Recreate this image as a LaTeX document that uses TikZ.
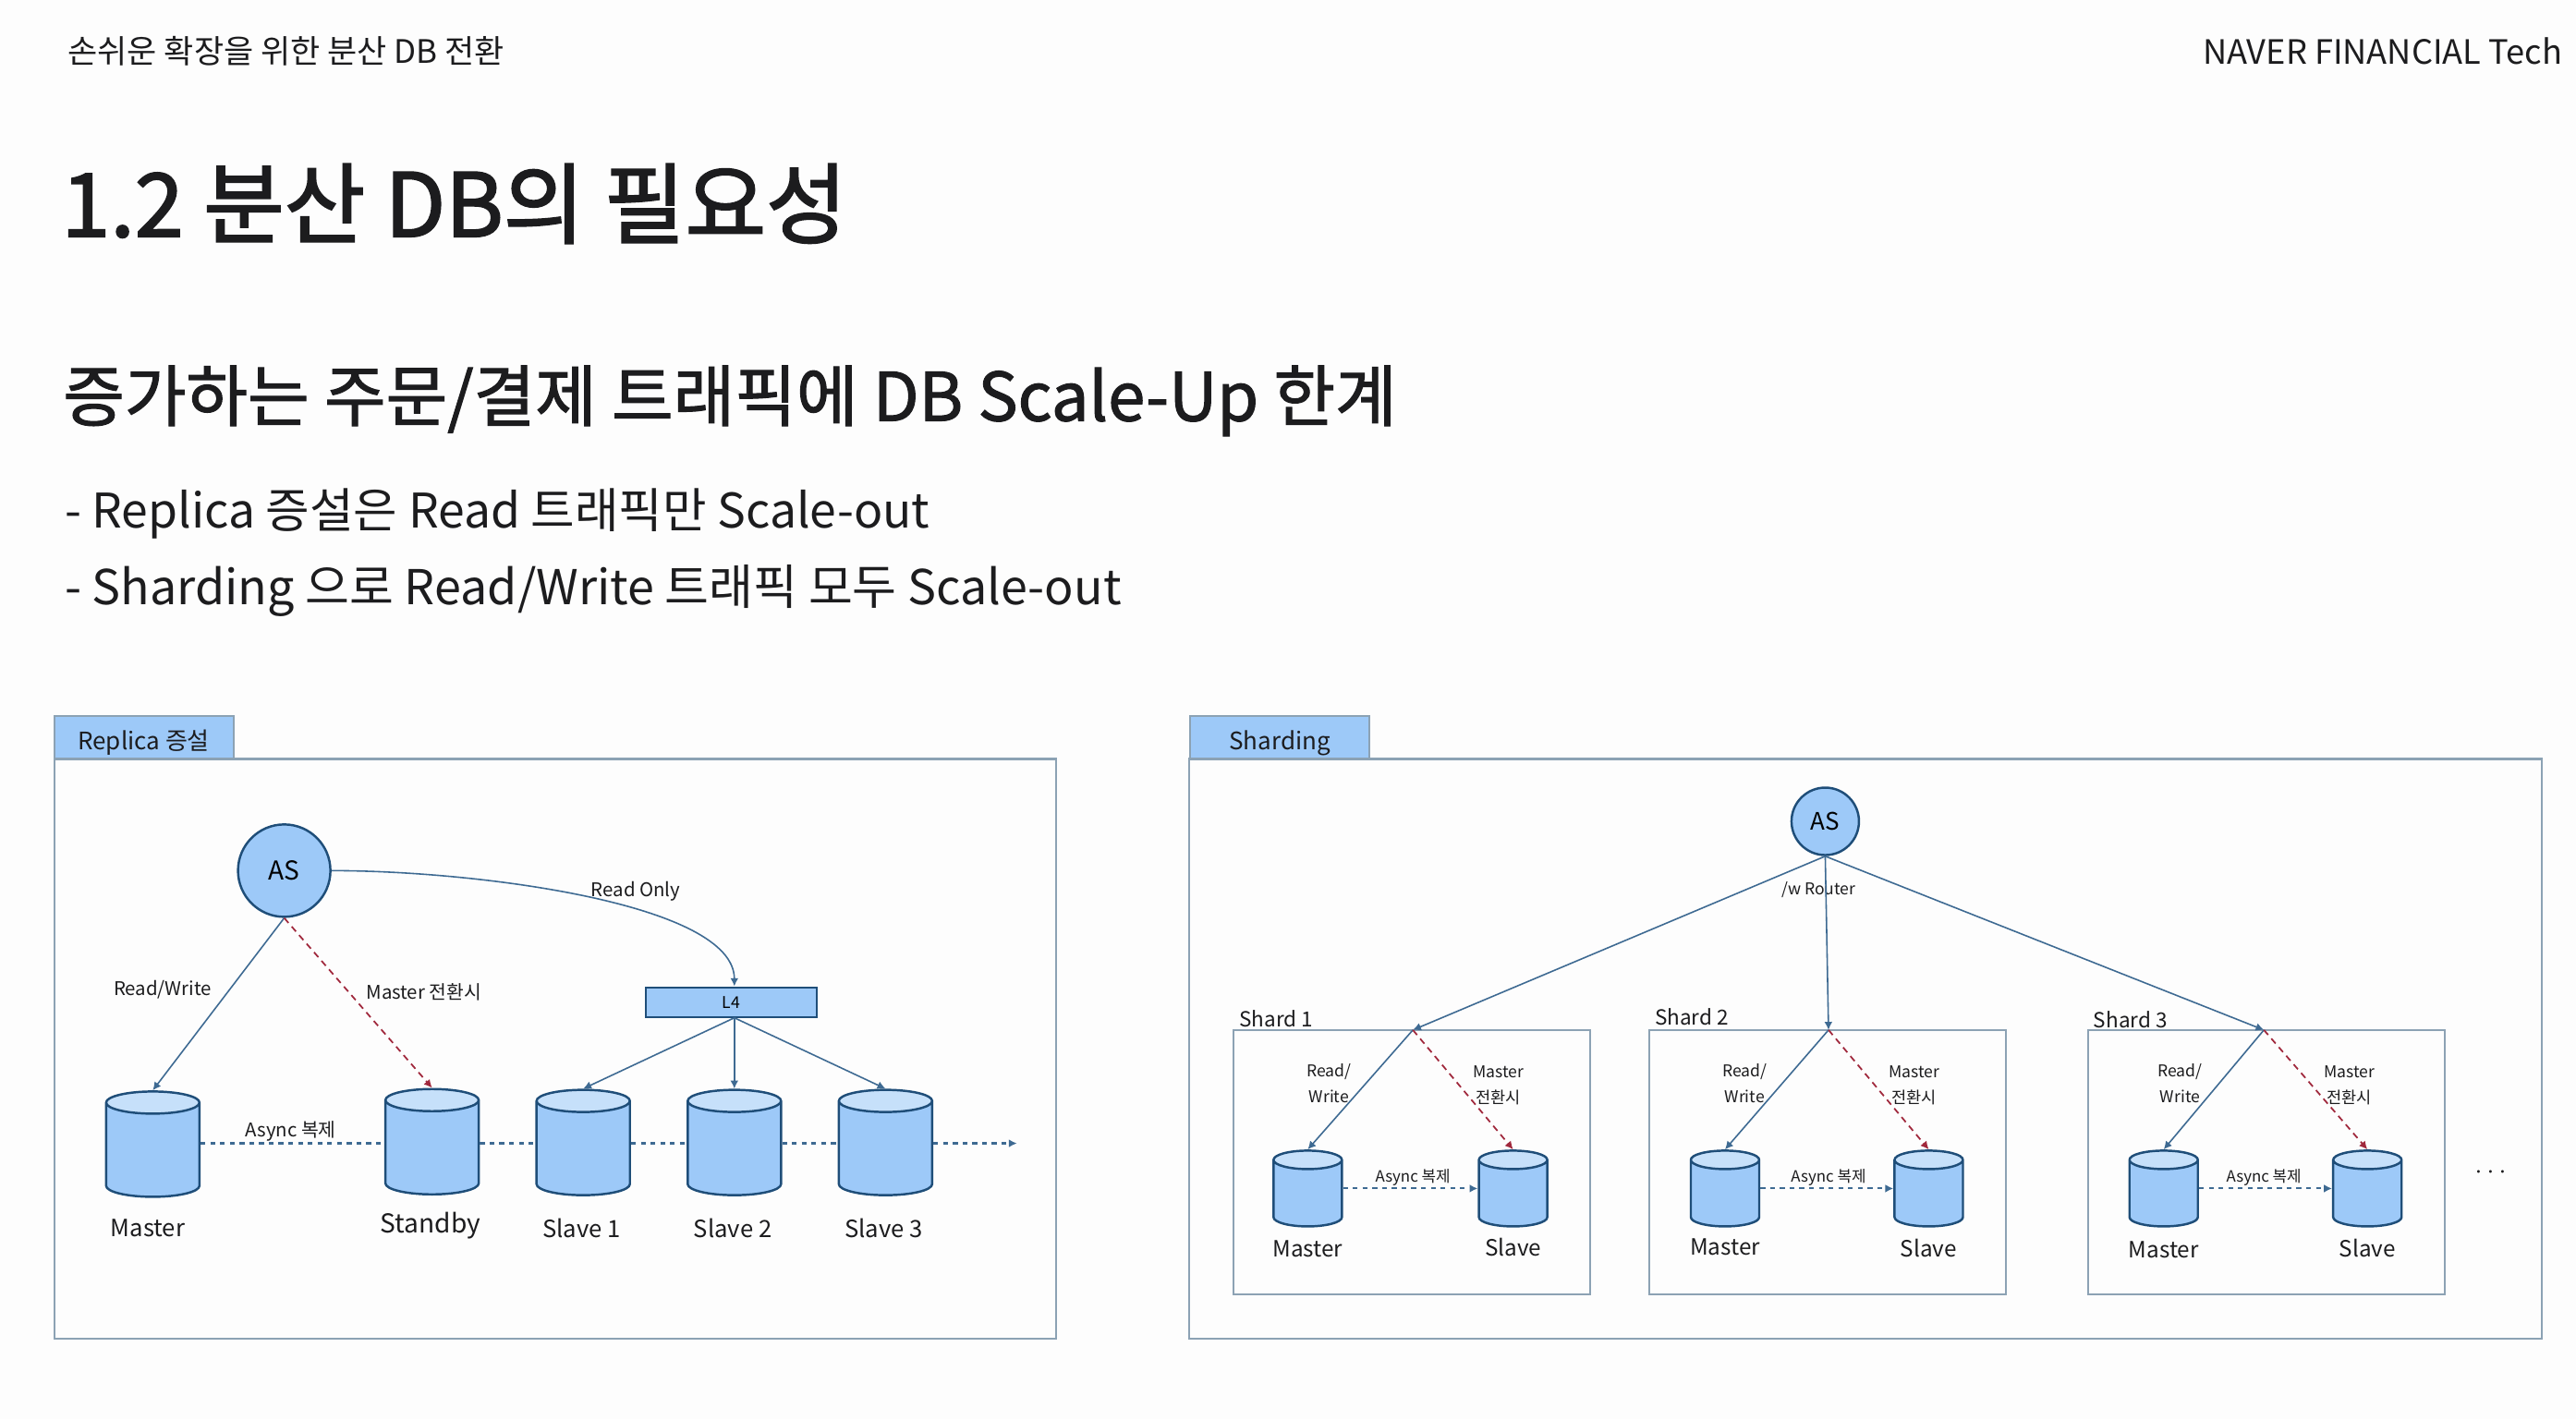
\documentclass[tikz,border=0pt]{standalone}
\usepackage{fontspec}
\setmainfont{Noto Sans CJK KR}
\newfontfamily\titlefont[FakeBold=2]{Noto Sans CJK KR}
\newfontfamily\headfont[FakeBold=1.5]{Noto Sans CJK KR}
\usetikzlibrary{arrows.meta,positioning,shapes.geometric}
\definecolor{PageWhite}{RGB}{253,253,253}
\definecolor{InkBlack}{RGB}{28,28,30}
\definecolor{DbBlue}{RGB}{157,201,248}
\definecolor{DbTop}{RGB}{198,224,250}
\definecolor{DbLine}{RGB}{31,78,121}
\definecolor{BoxGray}{RGB}{140,162,180}
\definecolor{LinkBlue}{RGB}{62,106,146}
\definecolor{SwitchRed}{RGB}{160,40,60}
\newcommand{\tabtext}[1]{\raisebox{-3.7pt}[0pt][0pt]{#1}}
\tikzset{
  db/.style={cylinder,anchor=shape center,shape border rotate=90,draw=DbLine,line width=.7pt,
    cylinder uses custom fill,cylinder body fill=DbBlue,cylinder end fill=DbTop,aspect=1},
  bigdb/.style={db,inner sep=.12cm,minimum width=1.01cm,minimum height=1.14cm},
  smalldb/.style={db,inner sep=.1cm,minimum width=.74cm,minimum height=.82cm},
  server/.style={circle,draw=DbLine,fill=DbBlue,line width=.7pt,inner sep=0pt},
  tabbox/.style={draw=BoxGray,fill=DbBlue,line width=.6pt,minimum width=1.94cm,minimum height=.46cm,inner sep=0pt,text=InkBlack,font=\fontsize{7.4}{10}\selectfont},
  panel/.style={draw=BoxGray,line width=.6pt},
  link/.style={->,LinkBlue,line width=.45pt},
  switchlink/.style={->,SwitchRed,line width=.5pt,dash pattern=on 2pt off 1.5pt},
  synclink/.style={LinkBlue,line width=.6pt,dash pattern=on 1.5pt off 1.5pt},
  smalltext/.style={text=InkBlack,inner sep=0pt,font=\fontsize{5.8}{8.6}\selectfont,align=center},
  dbname/.style={text=InkBlack,inner sep=0pt,font=\fontsize{7.3}{9}\selectfont}
}
\begin{document}
\begin{tikzpicture}[>={Latex[length=2.5pt,width=2.5pt]},x=.01778cm,y=-.01778cm]
\useasboundingbox[fill=PageWhite] (0,0) rectangle (1568,864);
% heading
\node[anchor=west,inner sep=0pt,text=InkBlack,font=\fontsize{9.95}{11}\selectfont] (running) at (41,31){손쉬운 확장을 위한 분산 DB 전환};
\node[anchor=east,inner sep=0pt,text=InkBlack,font=\fontsize{10.3}{11}\selectfont] (company) at (1560,31){NAVER FINANCIAL Tech};
\node[anchor=west,inner sep=0pt,text=InkBlack,font=\fontsize{27.1}{30}\titlefont] (title) at (37,124){1.2 분산 DB의 필요성};
\node[anchor=west,inner sep=0pt,text=InkBlack,font=\fontsize{20.6}{24}\headfont] (subtitle) at (38,244){증가하는 주문/결제 트래픽에 DB Scale-Up 한계};
\node[anchor=west,inner sep=0pt,text=InkBlack,font=\fontsize{14.7}{18}\selectfont] (point1) at (39,313){- Replica 증설은 Read 트래픽만 Scale-out};
\node[anchor=west,inner sep=0pt,text=InkBlack,font=\fontsize{14.8}{18}\selectfont] (point2) at (39,359.5){- Sharding 으로 Read/Write 트래픽 모두 Scale-out};

% replica
\draw[panel] (33,462) rectangle (643,815);
\node[tabbox] (replicatab) at (87.5,449){\tabtext{Replica 증설}};
\node[server,minimum size=1cm] (as) at (173,530){\fontsize{8}{10}\selectfont AS};
\node[draw=DbLine,fill=DbBlue,line width=.6pt,minimum width=1.85cm,minimum height=.32cm,inner sep=0pt,font=\fontsize{5}{6}\selectfont] (lfour) at (445,610){L4};
\node[bigdb] (master) at (93,696.5){};
\node[bigdb] (standby) at (263,695){};
\foreach \n/\x in {1/355,2/447,3/539}{
  \node[bigdb] (slave\n) at (\x,695.5){};
  \node[dbname] (slavename\n) at (\x-1,747.5){Slave \n};
}
\node[dbname] (mastername) at (90,747.5){Master};
\node[dbname,font=\fontsize{8}{10}\selectfont] (standbyname) at (262,746){Standby};
\coordinate (syncend) at (619,696);
\draw[link] (as.south) -- (master.top);
\node[smalltext] (readwrite) at (99,602.5){Read/Write};
\draw[switchlink] (as.south) -- (standby.top);
\node[smalltext] (switchname) at (258,604){Master 전환시};
\draw[link] (as.0) .. controls (290,530) and (447,550) .. (lfour.north -| slave2.top);
\node[smalltext] (readonly) at (387,542.5){Read Only};
\foreach \n in {1,2,3}\draw[link] (lfour.south -| slave2.top) -- (slave\n.top);
\draw[synclink] (master.0 |- syncend) -- (standby.180 |- syncend);
\draw[synclink] (standby.0 |- syncend) -- (slave1.180 |- syncend);
\draw[synclink] (slave1.0 |- syncend) -- (slave2.180 |- syncend);
\draw[synclink] (slave2.0 |- syncend) -- (slave3.180 |- syncend);
\draw[synclink,->] (slave3.0 |- syncend) -- (syncend);
\node[smalltext] (asyncreplica) at (177,688.5){Async 복제};

% sharding
\draw[panel] (724,462) rectangle (1547,815);
\node[tabbox] (shardtab) at (779,449){\tabtext{Sharding}};
\node[server,minimum size=.73cm] (router) at (1111,500){\fontsize{7.4}{9}\selectfont AS};
\node[smalltext,font=\fontsize{5}{8}\selectfont] (routername) at (1107,541.5){/w Router};
\foreach \s/\l/\e/\m/\v/\ly/\my/\vy in {1/751/860/796/921/620/760/759,2/1004/1113/1050/1174/619/759/760,3/1271/1378/1317/1441/621/761/760}{
  \draw[panel] (\l,627) rectangle (\l+217,788);
  \node[smalltext,font=\fontsize{6.4}{8}\selectfont,anchor=west] (shardname\s) at (\l+3,\ly){Shard \s};
  \coordinate (entry\s) at (\e,627);
  \node[smalldb] (master\s m) at (\m,723.5){};
  \node[smalldb] (slave\s s) at (\v,723.5){};
  \node[dbname,font=\fontsize{6.9}{9}\selectfont] (mastername\s) at (\m,\my){Master};
  \node[dbname,font=\fontsize{6.9}{9}\selectfont] (slavename\s) at (\v,\vy){Slave};
  \draw[link] (router.south) -- (entry\s);
  \draw[link] (entry\s) -- (master\s m.top);
  \draw[switchlink] (entry\s) -- (slave\s s.top);
  \draw[synclink,->] (master\s m.shape center -| master\s m.0) -- (slave\s s.shape center -| slave\s s.180);
  \node[smalltext,font=\fontsize{5}{8}\selectfont] (rw\s) at (\e-51,659.5){Read/\\Write};
  \node[smalltext,font=\fontsize{5}{8}\selectfont] (ms\s) at (\e+52,660.5){Master\\전환시};
  \node[smalltext,font=\fontsize{4.8}{6}\selectfont] (async\s) at (\e,717){Async 복제};
}
\node[inner sep=0pt,text=InkBlack,font=\fontsize{8}{9}\selectfont] (more) at (1516,714){$\cdot$\,$\cdot$\,$\cdot$};
\end{tikzpicture}
\end{document}
